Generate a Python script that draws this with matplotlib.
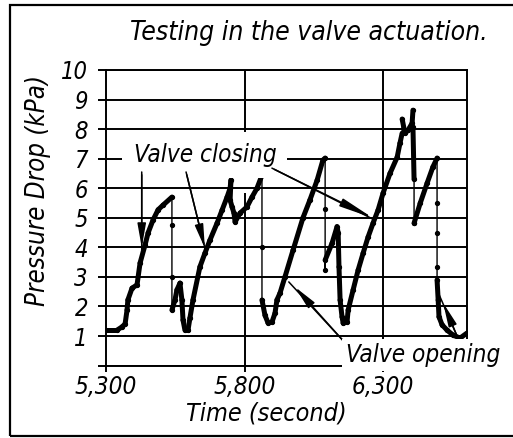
import matplotlib
matplotlib.use("Agg")
import matplotlib.pyplot as plt
from matplotlib.patches import Rectangle
import numpy as np

# Pressure drop record during valve actuation (time in s, pressure in kPa)
time_s = [
    5300, 5340, 5358, 5369, 5376, 5379, 5394, 5412, 5423, 5441, 5452, 5470, 5488, 5506, 5538,
    5538, 5538, 5538,
    5549, 5556, 5567, 5574, 5578, 5585, 5596, 5603, 5614, 5639, 5657, 5675, 5701, 5719, 5737, 5748, 5751,
    5748, 5755, 5762, 5766, 5784, 5809, 5827, 5845, 5863,
    5863, 5863,
    5874, 5885, 5899, 5910, 5917, 5928, 5946, 5975, 6011, 6036, 6062, 6083, 6091,
    6091, 6091, 6091,
    6116, 6134, 6138, 6141, 6145, 6152, 6156, 6170, 6174, 6192, 6210, 6228, 6246, 6264, 6282, 6300,
    6325, 6351, 6361, 6369, 6369, 6379, 6390, 6405, 6408, 6408,
    6412, 6412, 6412,
    6434, 6459, 6480, 6495,
    6495, 6495, 6495, 6495,
    6499, 6502, 6513, 6531, 6553, 6578, 6603,
]
pressure_kpa = [
    1.20, 1.20, 1.31, 1.41, 1.88, 2.22, 2.62, 2.73, 3.47, 4.08, 4.49, 4.93, 5.27, 5.43, 5.70,
    4.75, 3.00, 1.88,
    2.22, 2.56, 2.79, 2.22, 1.54, 1.20, 1.20, 1.61, 2.22, 3.34, 3.80, 4.24, 4.82, 5.26, 5.70, 6.00, 6.27,
    5.60, 5.37, 5.16, 4.86, 5.16, 5.37, 5.70, 6.00, 6.44,
    4.00, 2.22,
    1.70, 1.44, 1.47, 1.77, 2.22, 2.45, 3.00, 3.90, 5.00, 5.60, 6.27, 6.95, 7.02,
    5.30, 3.24, 3.57,
    4.14, 4.70, 4.49, 3.34, 2.22, 1.65, 1.44, 1.47, 1.88, 2.56, 3.23, 3.80, 4.35, 4.82, 5.26, 5.83,
    6.50, 7.05, 7.52, 7.86, 8.34, 7.86, 7.96, 8.20, 8.64, 8.07,
    6.30, 4.82, 4.82,
    5.49, 6.17, 6.72, 7.02,
    5.50, 4.50, 3.34, 2.90,
    2.22, 1.65, 1.38, 1.20, 1.03, 0.93, 1.10,
]

y_ticks = list(range(0, 11))
y_tick_labels = [""] + [str(v) for v in range(1, 11)]
x_ticks = [5300, 5800, 6300]
x_tick_labels = ["5,300", "5,800", "6,300"]

plt.rcParams["font.family"] = ["DejaVu Sans"]
plt.rcParams["font.style"] = "italic"
plt.rcParams["font.stretch"] = "condensed"

fig = plt.figure(figsize=(5.13, 4.38), dpi=100)
ax = fig.add_axes([0.2066, 0.1653, 0.7037, 0.6749])
ax.set_xlim(5300, 6603)
ax.set_ylim(0, 10)

# grid
for y in y_ticks:
    ax.axhline(y, color="black", lw=1.4, zorder=1)
ax.vlines([5800, 5800], [0, 7.85], [5.85, 10], color="black", lw=1.4, zorder=1)
ax.axvline(6300, color="black", lw=1.4, zorder=1)
for s in ax.spines.values():
    s.set_linewidth(1.4)

ax.set_yticks(y_ticks)
ax.set_yticklabels(y_tick_labels)
ax.set_xticks(x_ticks)
ax.set_xticklabels(x_tick_labels)
ax.tick_params(axis="y", length=6, width=1.4, pad=7, labelsize=17)
ax.tick_params(axis="x", length=4, width=1.4, pad=3, labelsize=17.5)

t = np.array(time_s, dtype=float)
p = np.array(pressure_kpa, dtype=float)

# thin trace through every point, including the sudden drops
ax.plot(t, p, color="black", lw=1.0, marker="o", ms=2.8, zorder=4)
# heavy trace over the gradual ramps (skip steps at a constant time)
for i in range(len(t) - 1):
    if t[i + 1] != t[i]:
        ax.plot(t[i:i + 2], p[i:i + 2], color="black", lw=3.6,
                solid_capstyle="round", zorder=4)

ax.text(5657, 7.12, "Valve closing", fontsize=17.5, ha="center", va="center",
        bbox=dict(facecolor="white", edgecolor="none", pad=8), zorder=6)
ax.text(6444, 0.36, "Valve opening", fontsize=17.5, ha="center", va="center",
        bbox=dict(facecolor="white", edgecolor="none", pad=3), zorder=10,
        clip_on=False)

def arrow(x0, y0, x1, y1, xh, yh, hl=0.9):
    ax.annotate("", xy=(x1, y1), xytext=(x0, y0),
                arrowprops=dict(arrowstyle="-", color="black", lw=1.1), zorder=7)
    ax.annotate("", xy=(xh, yh), xytext=(x0, y0),
                arrowprops=dict(arrowstyle=f"-|>,head_length={hl},head_width=0.16",
                                color="black", lw=1.1, mutation_scale=16,
                                shrinkA=0, shrinkB=0), zorder=7)

# closing arrows
arrow(5429, 6.55, 5429, 3.70, 5429, 4.00)
arrow(5589, 6.55, 5665, 3.67, 5657, 3.97)
arrow(5899, 6.68, 6271, 4.92, 6264, 4.99, hl=1.3)
# opening arrows
arrow(6163, 0.77, 5953, 2.90, 5982, 2.66)
arrow(6578, 0.76, 6495, 2.56, 6517, 2.12)

fig.text(309 / 513, 1 - 33 / 438, "Testing in the valve actuation.",
         fontsize=19, ha="center", va="center")
fig.text(266 / 513, 1 - 414 / 438, "Time (second)", fontsize=18,
         ha="center", va="center")
fig.text(38 / 513, 1 - 191 / 438, "Pressure Drop (kPa)", fontsize=18.5,
         ha="center", va="center", rotation=90)

fig.patches.append(Rectangle((10 / 513, 1 - 436 / 438), 2.0, 431 / 438,
                             transform=fig.transFigure, fill=False,
                             edgecolor="black", lw=1.6))

fig.savefig("out.png", dpi=100)
